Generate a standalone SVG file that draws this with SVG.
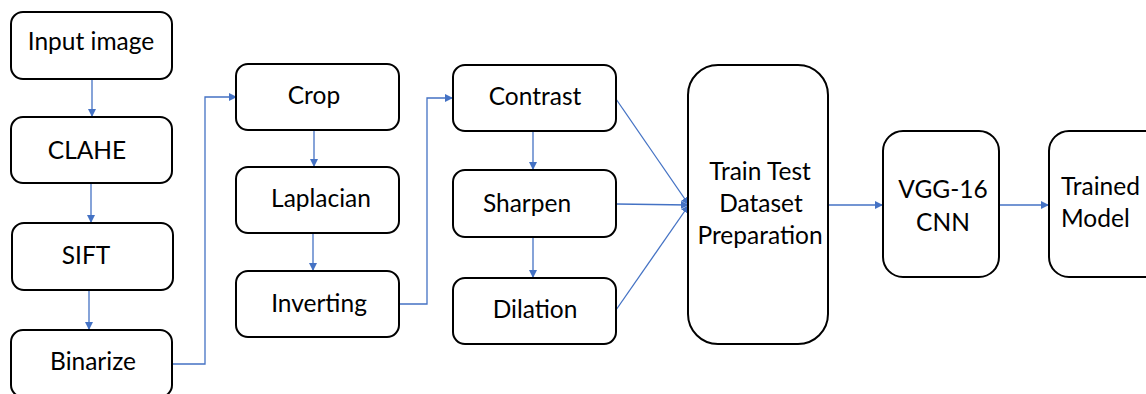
<svg xmlns="http://www.w3.org/2000/svg" width="1146" height="394" viewBox="0 0 1146 394">
  <style>
    .box { fill: #ffffff; stroke: #000000; stroke-width: 2; }
    .lbl { font-family: Lato, "Open Sans", "Liberation Sans", sans-serif; font-size: 24.5px; fill: #000000; text-anchor: middle; }
    .lbl-left { text-anchor: start; }
    .link { fill: none; stroke: #4472C4; stroke-width: 1.3; marker-end: url(#head); }
  </style>
  <defs>
    <marker id="head" viewBox="0 0 10 10" refX="10" refY="5" markerWidth="8" markerHeight="8" markerUnits="userSpaceOnUse" orient="auto">
      <path d="M0,0 L10,5 L0,10 Z" fill="#4472C4"/>
    </marker>
  </defs>
  <rect width="1146" height="394" fill="#ffffff"/>

  <!-- connectors -->
  <g id="connectors">
    <line class="link" x1="92" y1="79" x2="92" y2="117"/>
    <line class="link" x1="91" y1="183" x2="91" y2="223"/>
    <line class="link" x1="89" y1="290" x2="89" y2="330"/>
    <polyline class="link" points="172,364 205,364 205,97 237,97"/>
    <line class="link" x1="314" y1="130" x2="314" y2="167"/>
    <line class="link" x1="313" y1="233" x2="313" y2="271"/>
    <polyline class="link" points="399,304 427,304 427,98 453,98"/>
    <line class="link" x1="533" y1="131" x2="533" y2="170"/>
    <line class="link" x1="533" y1="237" x2="533" y2="278"/>
    <line class="link" x1="616" y1="99" x2="689" y2="205"/>
    <line class="link" x1="616" y1="204" x2="689" y2="205"/>
    <line class="link" x1="616" y1="310" x2="689" y2="205"/>
    <line class="link" x1="828" y1="205" x2="883" y2="205"/>
    <line class="link" x1="999" y1="205" x2="1049" y2="205"/>
  </g>

  <g id="input-image">
    <rect class="box" x="11" y="12" width="161" height="67" rx="12"/>
    <text class="lbl" x="91" y="50">Input image</text>
  </g>
  <g id="clahe">
    <rect class="box" x="11" y="117" width="161" height="66" rx="12"/>
    <text class="lbl" x="87" y="159">CLAHE</text>
  </g>
  <g id="sift">
    <rect class="box" x="12" y="223" width="161" height="67" rx="12"/>
    <text class="lbl" x="86" y="264">SIFT</text>
  </g>
  <g id="binarize">
    <rect class="box" x="11" y="330" width="161" height="67" rx="12"/>
    <text class="lbl" x="93" y="370">Binarize</text>
  </g>

  <g id="crop">
    <rect class="box" x="236" y="64" width="163" height="66" rx="12"/>
    <text class="lbl" x="314" y="104">Crop</text>
  </g>
  <g id="laplacian">
    <rect class="box" x="236" y="167" width="163" height="66" rx="12"/>
    <text class="lbl" x="321" y="207">Laplacian</text>
  </g>
  <g id="inverting">
    <rect class="box" x="236" y="271" width="163" height="66" rx="12"/>
    <text class="lbl" x="319" y="312">Inverting</text>
  </g>

  <g id="contrast">
    <rect class="box" x="453" y="65" width="163" height="66" rx="12"/>
    <text class="lbl" x="535" y="105">Contrast</text>
  </g>
  <g id="sharpen">
    <rect class="box" x="453" y="170" width="163" height="67" rx="12"/>
    <text class="lbl" x="527" y="212">Sharpen</text>
  </g>
  <g id="dilation">
    <rect class="box" x="453" y="278" width="163" height="66" rx="12"/>
    <text class="lbl" x="535" y="318">Dilation</text>
  </g>

  <g id="train-test">
    <rect class="box" x="688" y="65" width="140" height="279" rx="30"/>
    <text class="lbl" x="760" y="180">Train Test</text>
    <text class="lbl" x="761" y="212">Dataset</text>
    <text class="lbl" x="760" y="244">Preparation</text>
  </g>

  <g id="vgg16">
    <rect class="box" x="883" y="131" width="116" height="146" rx="20"/>
    <text class="lbl" x="943" y="198">VGG-16</text>
    <text class="lbl" x="943" y="231">CNN</text>
  </g>

  <g id="trained-model">
    <rect class="box" x="1049" y="131" width="116" height="146" rx="20"/>
    <text class="lbl lbl-left" x="1061" y="195">Trained</text>
    <text class="lbl lbl-left" x="1061" y="227">Model</text>
  </g>
</svg>
